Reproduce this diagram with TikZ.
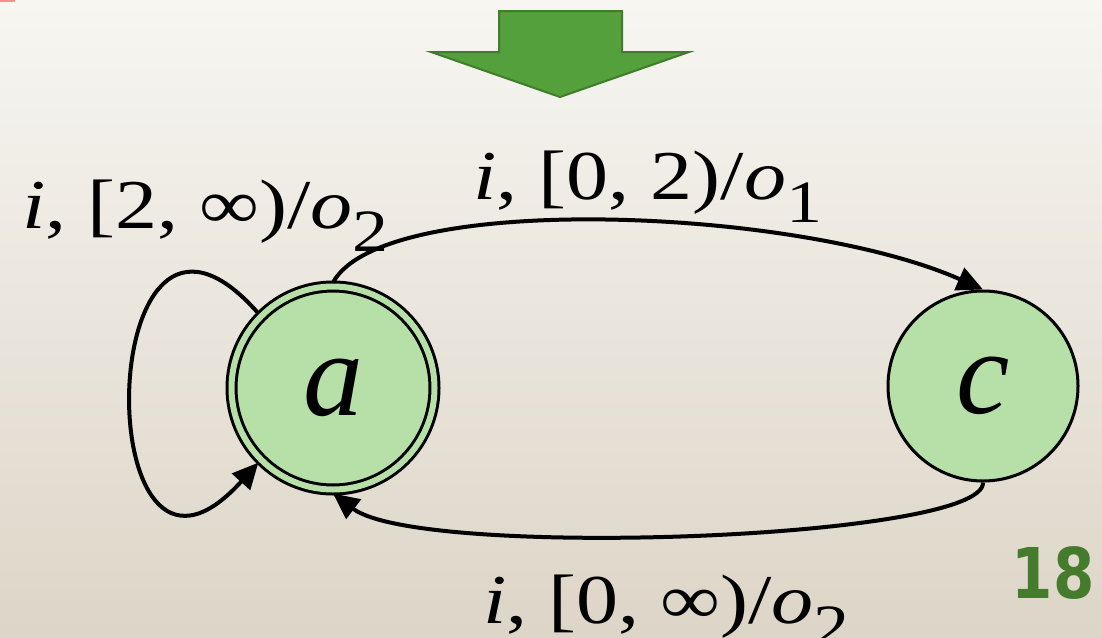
\documentclass[tikz,border=0pt]{standalone}
\usepackage{fontspec}
\setmainfont{Liberation Serif}
\newfontfamily\numfont{DejaVu Sans}
\usetikzlibrary{arrows.meta, positioning, calc, shapes}

\definecolor{stategreen}{RGB}{182,224,167}
\definecolor{arrowgreen}{RGB}{84,160,60}
\definecolor{arrowedge}{RGB}{63,125,42}
\definecolor{pagegreen}{RGB}{69,123,45}
\definecolor{bgtop}{RGB}{247,246,242}
\definecolor{bgbottom}{RGB}{221,213,199}

\newcommand{\lsub}[1]{\raisebox{-0.34em}{\fontsize{30}{30}\selectfont #1}}
\newcommand{\wide}[1]{\scalebox{1.2}[1]{#1}}

\tikzset{
  state/.style={circle, draw, line width=1.5pt, fill=stategreen, inner sep=0pt, font=\fontsize{60}{60}\selectfont\itshape},
  trans/.style={line width=2pt, -{Triangle[length=13pt, width=12pt]}},
  lbl/.style={anchor=base west, inner sep=0pt, font=\fontsize{35}{40}\selectfont}
}

\begin{document}
\begin{tikzpicture}[x=0.5pt, y=-0.5pt]
    % Background
    \shade[top color=bgtop, bottom color=bgbottom] (0,0) rectangle (1102,637);
    \useasboundingbox (0,0) rectangle (1102,637);
    \fill[red!45] (0,0) rectangle (15,1.5);

    % Down arrow
    \draw[arrowedge, fill=arrowgreen, line width=1pt] (499,11) -- (622,11) -- (622,52) -- (689,52) -- (560,97) -- (431,52) -- (499,52) -- cycle;

    % States
    \node[state, double=stategreen, double distance=3pt, minimum size=101.5pt, outer sep=2pt] (a) at (333,388) {a};
    \node[state, minimum size=95pt] (c) at (983,386) {c};

    % Transitions
    \draw[trans] (a.north) .. controls +(50,-92) and +(-185,-82) .. (c.north);
    \draw[trans] (c.south) .. controls +(2,57) and +(87,66) .. (a.south);
    \draw[trans] (a.135) .. controls +(-167,-190) and +(-172,190) .. (a.225);

    % Labels
    \node[lbl] (lblloop) at (22,228) {\wide{\textit{i}, [2, ∞)/\textit{o}\lsub{2}}};
    \node[lbl] (lbltop) at (473,199) {\wide{\textit{i}, [0, 2)/\textit{o}\lsub{1}}};
    \node[lbl] (lblbot) at (483,623) {\wide{\textit{i}, [0, ∞)/\textit{o}\lsub{2}}};

    % Page number
    \node[font=\numfont\bfseries\fontsize{35}{35}\selectfont, text=pagegreen, anchor=base east, inner sep=0pt] (page) at (1095,598) {\scalebox{0.85}[1]{18}};
\end{tikzpicture}
\end{document}
